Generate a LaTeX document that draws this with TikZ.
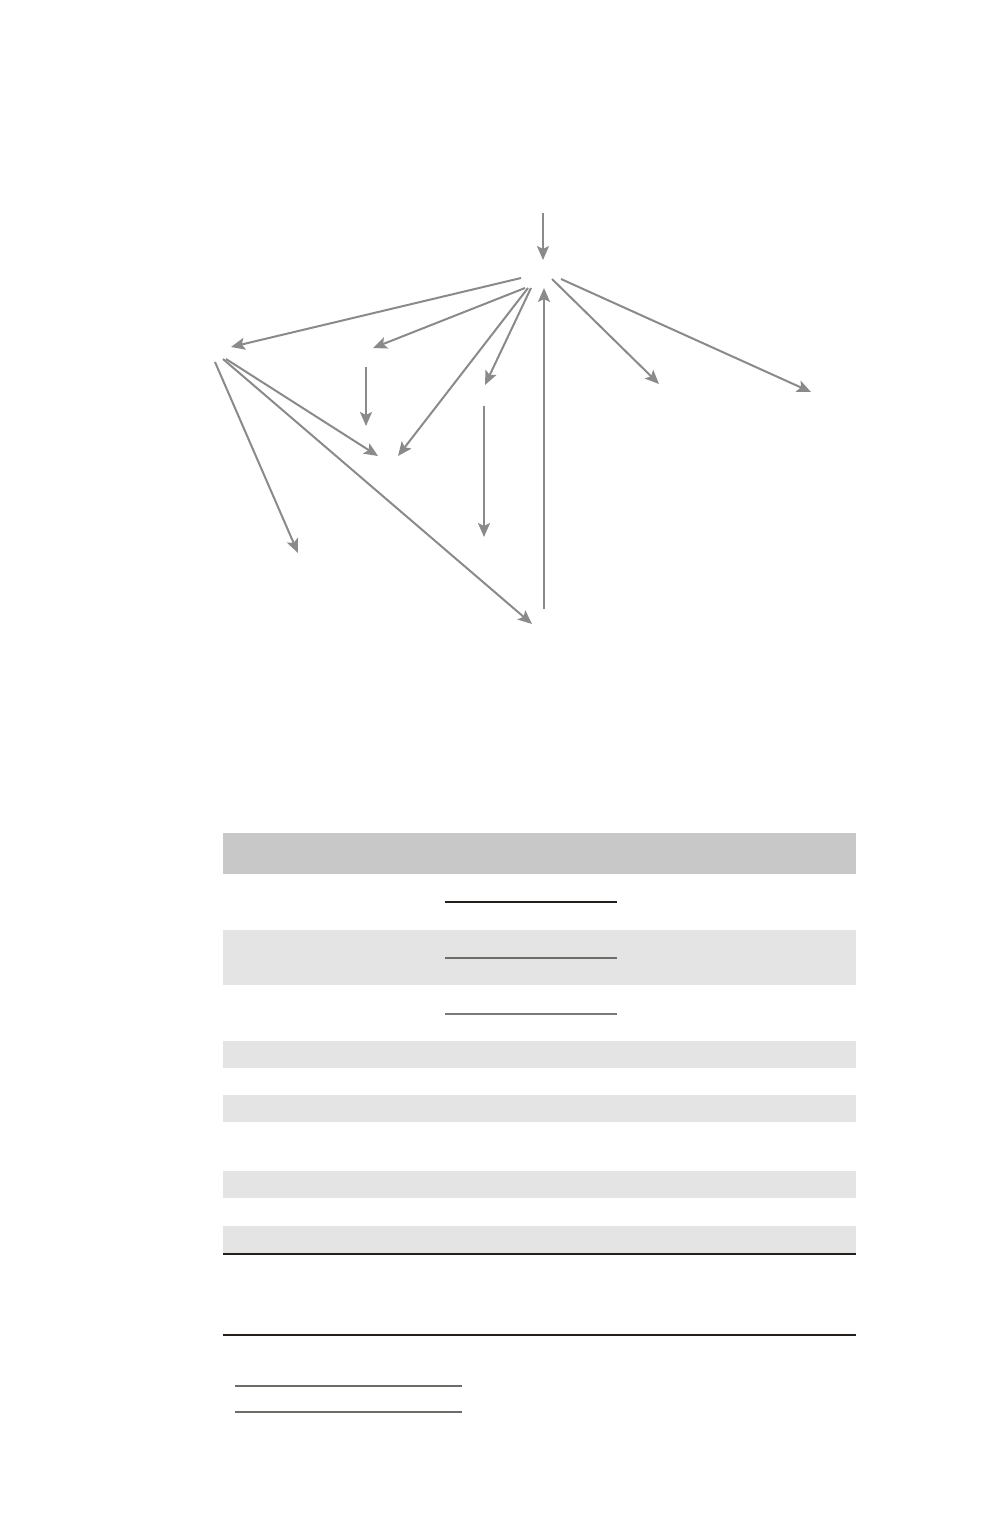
\documentclass[tikz,border=0pt]{standalone}
\usetikzlibrary{arrows.meta}

\definecolor{gris}{HTML}{8A8A8A}
\definecolor{grisfonce}{HTML}{C8C8C8}
\definecolor{grisclair}{HTML}{E4E4E4}
\definecolor{trait}{HTML}{231F1C}
\definecolor{traitgris}{HTML}{6E6C68}

\tikzset{fleche/.style = {draw = gris, line width = 1pt,
                          -{Stealth[length = 7pt, width = 6pt, inset = 1.5pt]}},
         entete/.style = {fill = grisfonce},
         bande/.style  = {fill = grisclair},
         filet/.style  = {draw = trait, line width = #1},
         filet/.default = 0.6pt
        }

\begin{document}
\begin{tikzpicture}[x = 0.5pt, y = -0.5pt]
  \useasboundingbox (0,0) rectangle (1000,1528);

  % points du schema
  \coordinate (haut) at (543,213);
  \coordinate (pivot) at (543,260);
  \coordinate (p1) at (521,278);
  \coordinate (p2) at (525,288);
  \coordinate (p3) at (528,288);
  \coordinate (p4) at (531,288);
  \coordinate (p5) at (544,288);
  \coordinate (p6) at (552,279);
  \coordinate (p7) at (561,279);
  \coordinate (gauche) at (231,347);
  \coordinate (g1) at (215,362);
  \coordinate (g2) at (223,359);
  \coordinate (g3) at (226,359);
  \coordinate (milieu) at (373,348);
  \coordinate (m1) at (366,367);
  \coordinate (m2) at (366,426);
  \coordinate (bas1) at (378,456);
  \coordinate (bas2) at (398,456);
  \coordinate (droit) at (485,385);
  \coordinate (d1) at (484,406);
  \coordinate (d2) at (484,537);
  \coordinate (coin) at (298,553);
  \coordinate (pied) at (532,624);
  \coordinate (retour) at (544,609);
  \coordinate (est1) at (659,384);
  \coordinate (est2) at (811,392);

  % fleches
  \draw[fleche] (haut) -- (pivot);
  \draw[fleche] (p1) -- (gauche);
  \draw[fleche] (p2) -- (milieu);
  \draw[fleche] (p3) -- (bas2);
  \draw[fleche] (p4) -- (droit);
  \draw[fleche] (retour) -- (p5);
  \draw[fleche] (p6) -- (est1);
  \draw[fleche] (p7) -- (est2);
  \draw[fleche] (m1) -- (m2);
  \draw[fleche] (d1) -- (d2);
  \draw[fleche] (g3) -- (bas1);
  \draw[fleche] (g2) -- (pied);
  \draw[fleche] (g1) -- (coin);

  % tableau
  \fill[entete] (223,833) rectangle (856,874);
  \foreach \h/\b in {930/985, 1041/1068, 1095/1122, 1171/1198, 1226/1254}
    \fill[bande] (223,\h) rectangle (856,\b);
  \draw[filet] (445,902) -- (617,902);
  \draw[filet, draw = traitgris] (445,958) -- (617,958);
  \draw[filet = 1pt, draw = gris!85!trait] (445,1014) -- (617,1014);
  \draw[filet = 0.8pt] (223,1254) -- (856,1254);
  \draw[filet] (223,1335) -- (856,1335);
  \draw[filet = 0.8pt, draw = traitgris] (235,1386) -- (462,1386);
  \draw[filet = 0.8pt, draw = traitgris] (235,1412) -- (462,1412);
\end{tikzpicture}
\end{document}
